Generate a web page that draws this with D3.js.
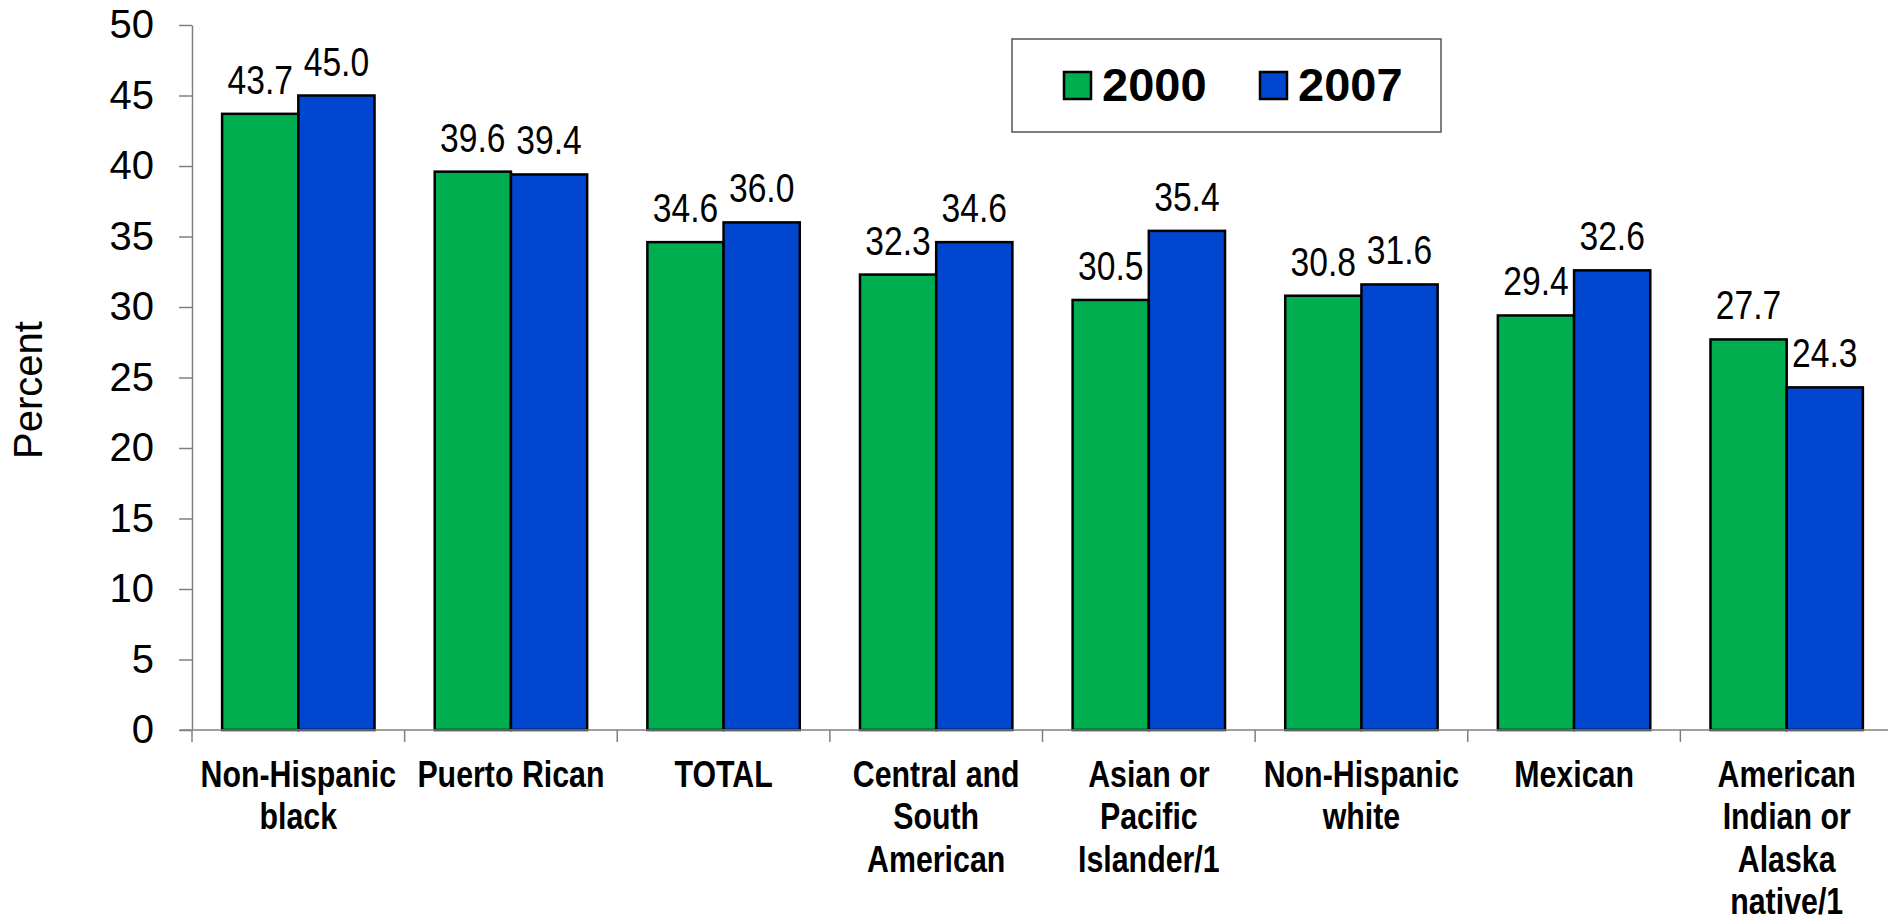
<!DOCTYPE html>
<html lang="en">
<head>
    <meta charset="UTF-8">
    <title>Percent by group, 2000 and 2007</title>
    <script src="https://d3js.org/d3.v7.min.js"></script>
    <style>
        body {
            margin: 0;
            background: #fff;
        }
        .tick-label {
            font-family: "Liberation Sans", Arial, sans-serif;
            font-size: 40px;
            fill: #000;
        }
        /* no narrow font here, so the labels are squeezed with scaleX */
        .value-label {
            font-family: "Liberation Sans", Arial, sans-serif;
            font-size: 41px;
            fill: #000;
        }
        .cat-label {
            font-family: "Liberation Sans", Arial, sans-serif;
            font-size: 37px;
            font-weight: bold;
            fill: #000;
        }
        .legend-text {
            font-family: "Liberation Sans", Arial, sans-serif;
            font-size: 47px;
            font-weight: bold;
            fill: #000;
        }
    </style>
</head>
<body>
<svg id="chart"></svg>
<script>
    // data
    const categories = [
        "Non-Hispanic black", "Puerto Rican", "TOTAL", "Central and South American",
        "Asian or Pacific Islander/1", "Non-Hispanic white", "Mexican",
        "American Indian or Alaska native/1"
    ];
    // how each category label is broken into lines
    const categoryLines = [
        ["Non-Hispanic", "black"],
        ["Puerto Rican"],
        ["TOTAL"],
        ["Central and", "South", "American"],
        ["Asian or", "Pacific", "Islander/1"],
        ["Non-Hispanic", "white"],
        ["Mexican"],
        ["American", "Indian or", "Alaska", "native/1"]
    ];
    const seriesNames = ["2000", "2007"];
    const values2000 = [43.7, 39.6, 34.6, 32.3, 30.5, 30.8, 29.4, 27.7];
    const values2007 = [45.0, 39.4, 36.0, 34.6, 35.4, 31.6, 32.6, 24.3];
    const yTicks = [0, 5, 10, 15, 20, 25, 30, 35, 40, 45, 50];

    const width = 1888;
    const height = 920;
    const colors = {"2000": "#00ae4f", "2007": "#0046cf"};
    const narrow = 0.82;

    const svg = d3.select("#chart")
        .attr("width", width)
        .attr("height", height);

    // scales
    const x0 = d3.scaleBand()
        .domain(categories)
        .range([192, 1893]);

    const x1 = d3.scaleBand()
        .domain(seriesNames)
        .range([0, x0.bandwidth()])
        .paddingInner(0)
        .paddingOuter(0.395);

    const y = d3.scaleLinear()
        .domain([0, 50])
        .range([730, 25]);

    // y axis
    const yAxis = svg.append("g")
        .attr("transform", "translate(192,0)")
        .call(d3.axisLeft(y).tickValues(yTicks).tickSize(13).tickSizeOuter(0).tickPadding(25));
    yAxis.select(".domain").attr("stroke", "#808080").attr("stroke-width", 1.5);
    yAxis.selectAll(".tick line").attr("stroke", "#808080").attr("stroke-width", 1.5);
    yAxis.selectAll(".tick text")
        .attr("class", "tick-label")
        .attr("font-size", null)
        .attr("font-family", null);

    // y axis title
    svg.append("text")
        .attr("class", "tick-label")
        .attr("transform", "translate(42,390) rotate(-90)")
        .attr("text-anchor", "middle")
        .text("Percent");

    // bars
    const rows = categories.map((c, i) => ({
        category: c,
        values: [
            {key: "2000", value: values2000[i]},
            {key: "2007", value: values2007[i]}
        ]
    }));

    const group = svg.selectAll(".group")
        .data(rows)
        .enter().append("g")
        .attr("class", "group")
        .attr("transform", d => `translate(${x0(d.category)},0)`);

    group.selectAll("rect")
        .data(d => d.values)
        .enter().append("rect")
        .attr("x", d => x1(d.key))
        .attr("y", d => y(d.value))
        .attr("width", x1.bandwidth())
        .attr("height", d => y(0) - y(d.value))
        .attr("fill", d => colors[d.key])
        .attr("stroke", "#000")
        .attr("stroke-width", 2.5);

    group.selectAll(".value-label")
        .data(d => d.values)
        .enter().append("text")
        .attr("class", "value-label")
        .attr("transform", d => `translate(${x1(d.key) + x1.bandwidth() / 2},${y(d.value) - 20}) scale(${narrow},1)`)
        .attr("text-anchor", "middle")
        .text(d => d.value.toFixed(1));

    // x axis: line with ticks at category boundaries
    const xAxis = svg.append("g");
    xAxis.append("line")
        .attr("x1", 180)
        .attr("x2", width)
        .attr("y1", y(0))
        .attr("y2", y(0))
        .attr("stroke", "#808080")
        .attr("stroke-width", 1.5);

    const boundaries = categories.map(c => x0(c)).concat([x0.range()[1]]);
    xAxis.selectAll(".xtick")
        .data(boundaries)
        .enter().append("line")
        .attr("x1", d => d)
        .attr("x2", d => d)
        .attr("y1", y(0))
        .attr("y2", y(0) + 12)
        .attr("stroke", "#808080")
        .attr("stroke-width", 1.5);

    // category labels
    xAxis.selectAll(".cat-label")
        .data(categories)
        .enter().append("text")
        .attr("class", "cat-label")
        .attr("text-anchor", "middle")
        .attr("transform", d => `translate(${x0(d) + x0.bandwidth() / 2},787) scale(${narrow},1)`)
        .each(function(d, i) {
            d3.select(this).selectAll("tspan")
                .data(categoryLines[i])
                .enter().append("tspan")
                .attr("x", 0)
                .attr("dy", (t, j) => j === 0 ? 0 : 42.5)
                .text(t => t);
        });

    // legend
    const legend = svg.append("g");
    legend.append("rect")
        .attr("x", 1012)
        .attr("y", 39)
        .attr("width", 429)
        .attr("height", 93)
        .attr("fill", "#fff")
        .attr("stroke", "#555")
        .attr("stroke-width", 1.5);

    const legendX = [1064, 1260];
    seriesNames.forEach((s, i) => {
        legend.append("rect")
            .attr("x", legendX[i])
            .attr("y", 72)
            .attr("width", 27)
            .attr("height", 27)
            .attr("fill", colors[s])
            .attr("stroke", "#000")
            .attr("stroke-width", 2.5);
        legend.append("text")
            .attr("class", "legend-text")
            .attr("x", legendX[i] + 38)
            .attr("y", 101)
            .text(s);
    });
</script>
</body>
</html>
